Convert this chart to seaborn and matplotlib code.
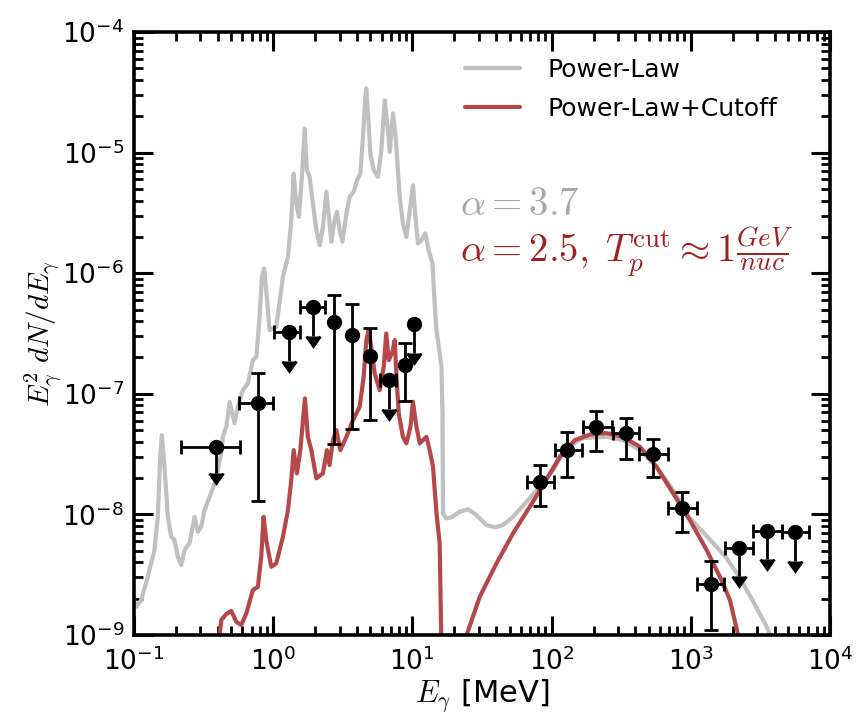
import numpy as np
import pandas as pd
import matplotlib
matplotlib.use("Agg")
import matplotlib.pyplot as plt
import seaborn as sns
from matplotlib.ticker import LogLocator, NullFormatter
from matplotlib.lines import Line2D

# ---------------- data ----------------
# Power-Law model curve: log10(E/MeV), log10(E^2 dN/dE)
pl_log_e = [-1.000, -0.984, -0.948, -0.901, -0.853, -0.829, -0.812, -0.800, -0.781, -0.757,
            -0.733, -0.709, -0.685, -0.661, -0.637, -0.601, -0.565, -0.541, -0.517, -0.493,
            -0.457, -0.421, -0.398, -0.373, -0.362, -0.337, -0.313, -0.278, -0.254, -0.218,
            -0.182, -0.146, -0.121, -0.098, -0.081, -0.065, -0.044, -0.026, 0.022, 0.070,
            0.106, 0.130, 0.147, 0.166, 0.185, 0.206, 0.226, 0.242, 0.262, 0.285,
            0.310, 0.334, 0.357, 0.382, 0.400, 0.418, 0.441, 0.458, 0.477, 0.497,
            0.526, 0.549, 0.578, 0.602, 0.626, 0.645, 0.662, 0.669, 0.684, 0.698,
            0.722, 0.753, 0.777, 0.801, 0.822, 0.837, 0.861, 0.880, 0.909, 0.932,
            0.957, 0.981, 1.004, 1.022, 1.040, 1.065, 1.093, 1.117, 1.144, 1.160,
            1.173, 1.209, 1.216, 1.220, 1.244, 1.280, 1.340, 1.400, 1.460, 1.532,
            1.592, 1.651, 1.723, 1.820, 1.915, 2.011, 2.107, 2.224, 2.395, 2.512,
            2.634, 2.754, 2.873, 2.993, 3.161, 3.257, 3.353, 3.449, 3.545, 3.620]
pl_log_f = [-8.710, -8.765, -8.710, -8.517, -8.296, -8.020, -7.522, -7.342, -7.605, -8.020,
            -8.185, -8.213, -8.351, -8.420, -8.296, -8.238, -8.020, -8.144, -8.102, -7.964,
            -7.854, -7.743, -7.633, -7.494, -7.357, -7.274, -7.066, -7.243, -7.108, -6.970,
            -6.914, -6.721, -6.694, -6.362, -6.030, -5.961, -6.224, -6.472, -6.445, -6.030,
            -5.865, -5.561, -5.174, -5.420, -5.533, -5.202, -4.801, -5.146, -5.202, -5.420,
            -5.643, -5.768, -5.616, -5.326, -5.533, -5.740, -5.561, -5.492, -5.643, -5.740,
            -5.505, -5.367, -5.326, -5.229, -5.174, -4.870, -4.539, -4.469, -4.732, -5.008,
            -5.146, -5.202, -4.980, -4.566, -4.787, -4.995, -4.676, -4.870, -5.367, -5.588,
            -5.699, -5.478, -5.271, -5.533, -5.754, -5.726, -5.671, -5.809, -5.919, -6.251,
            -6.472, -6.776, -7.163, -7.991, -8.033, -8.025, -7.978, -7.958, -8.005, -8.088,
            -8.107, -8.088, -8.020, -7.895, -7.771, -7.633, -7.450, -7.367, -7.357, -7.384,
            -7.467, -7.608, -7.798, -8.030, -8.238, -8.362, -8.528, -8.724, -8.931, -9.150]

# Power-Law+Cutoff model curve, low-energy part
plc_lo_log_e = [-0.400, -0.373, -0.337, -0.301, -0.265, -0.229, -0.193, -0.146, -0.110, -0.086,
                -0.069, -0.050, -0.014, 0.022, 0.070, 0.106, 0.130, 0.147, 0.170, 0.195,
                0.214, 0.228, 0.249, 0.274, 0.310, 0.357, 0.386, 0.405, 0.429, 0.454,
                0.482, 0.526, 0.573, 0.621, 0.650, 0.669, 0.686, 0.707, 0.729, 0.765,
                0.794, 0.812, 0.830, 0.856, 0.873, 0.887, 0.902, 0.932, 0.957, 0.986,
                1.004, 1.029, 1.053, 1.076, 1.101, 1.124, 1.148, 1.173, 1.196, 1.209]
plc_lo_log_f = [-9.150, -8.876, -8.826, -8.801, -8.892, -8.917, -8.820, -8.627, -8.600, -8.351,
                -8.020, -8.213, -8.434, -8.406, -8.185, -7.964, -7.715, -7.467, -7.660, -7.467,
                -7.218, -7.038, -7.357, -7.467, -7.701, -7.660, -7.467, -7.591, -7.384, -7.301,
                -7.467, -7.357, -7.218, -7.108, -6.859, -6.555, -6.472, -6.638, -6.831, -6.970,
                -6.776, -6.500, -6.721, -6.655, -6.555, -6.887, -7.163, -7.357, -7.411, -7.274,
                -7.066, -7.274, -7.411, -7.384, -7.357, -7.467, -7.605, -7.991, -8.240, -9.150]
# Power-Law+Cutoff model curve, pion bump part
plc_hi_log_e = [1.345, 1.484, 1.604, 1.723, 1.843, 1.939, 2.059, 2.167, 2.275, 2.395,
                2.514, 2.634, 2.754, 2.873, 2.993, 3.114, 3.209, 3.281, 3.370]
plc_hi_log_f = [-9.150, -8.683, -8.406, -8.157, -7.937, -7.757, -7.522, -7.384, -7.338, -7.326,
                -7.357, -7.439, -7.605, -7.826, -8.047, -8.296, -8.517, -8.710, -9.150]

# measured points (E in MeV, flux, x-range, y-range); nan = no energy bar
det_e = [0.776, 2.75, 3.66, 4.97, 8.81, 83.2, 129, 210, 340, 537, 859, 1394]
det_f = [8.41e-8, 3.95e-7, 3.10e-7, 2.05e-7, 1.73e-7, 1.87e-8, 3.41e-8, 5.32e-8, 4.70e-8,
         3.16e-8, 1.12e-8, 2.65e-9]
det_e_lo = [0.566, np.nan, np.nan, np.nan, np.nan, 66.7, 105, 167, 274, 426, 688, 1101]
det_e_hi = [0.995, np.nan, np.nan, np.nan, np.nan, 104, 164, 270, 426, 688, 1101, 1730]
det_f_hi = [1.49e-7, 6.58e-7, 5.53e-7, 3.48e-7, 2.62e-7, 2.56e-8, 4.79e-8, 7.23e-8, 6.32e-8,
            4.19e-8, 1.54e-8, 4.10e-9]
det_f_lo = [1.30e-8, 3.80e-8, 5.07e-8, 6.08e-8, 8.69e-8, 1.17e-8, 2.05e-8, 3.37e-8, 2.86e-8,
            2.05e-8, 7.18e-9, 1.11e-9]

# upper limits
ul_e = [0.390, 1.29, 1.93, 6.78, 10.3, 2228, 3540, 5600]
ul_f = [3.64e-8, 3.23e-7, 5.20e-7, 1.29e-7, 3.76e-7, 5.23e-9, 7.31e-9, 7.18e-9]
ul_e_lo = [0.216, 1.007, 1.57, 5.87, np.nan, 1758, 2810, 4500]
ul_e_hi = [0.573, 1.55, 2.34, 7.67, np.nan, 2780, 4500, 7100]
ul_f_tip = [1.93e-8, 1.62e-7, 2.62e-7, 6.53e-8, 1.90e-7, 2.68e-9, 3.68e-9, 3.57e-9]

legend_labels = ["Power-Law", "Power-Law+Cutoff"]
pl_color = "#c0c0c0"
plc_color = "#b5484b"

# ---------------- figure ----------------
sns.set_style("ticks")
plt.rcParams.update({
    "font.family": ["DejaVu Sans"],
    "mathtext.fontset": "dejavusans",
    "text.color": "black",
    "axes.labelcolor": "black",
    "axes.linewidth": 2.6,
    "axes.edgecolor": "black",
    "xtick.direction": "in", "ytick.direction": "in",
    "xtick.top": True, "ytick.right": True,
    "xtick.major.size": 14, "ytick.major.size": 14,
    "xtick.minor.size": 6.5, "ytick.minor.size": 6.5,
    "xtick.major.width": 2.2, "ytick.major.width": 2.2,
    "xtick.minor.width": 2.0, "ytick.minor.width": 2.0,
    "xtick.major.pad": 9, "ytick.major.pad": 7,
    "xtick.labelsize": 19, "ytick.labelsize": 19,
    "xtick.color": "black", "ytick.color": "black",
})

fig = plt.figure(figsize=(8.63, 7.26), dpi=100)
ax = fig.add_axes([134 / 863, 1 - 635 / 726, 696 / 863, 603 / 726])

pl_df = pd.DataFrame({"E": 10 ** np.array(pl_log_e), "F": 10 ** np.array(pl_log_f)})
lo_df = pd.DataFrame({"E": 10 ** np.array(plc_lo_log_e), "F": 10 ** np.array(plc_lo_log_f)})
hi_df = pd.DataFrame({"E": 10 ** np.array(plc_hi_log_e), "F": 10 ** np.array(plc_hi_log_f)})

sns.lineplot(data=pl_df, x="E", y="F", sort=False, estimator=None, color=pl_color,
             lw=3.0, ax=ax, legend=False, solid_joinstyle="round")
for d in (lo_df, hi_df):
    sns.lineplot(data=d, x="E", y="F", sort=False, estimator=None, color=plc_color,
                 lw=3.0, ax=ax, legend=False, solid_joinstyle="round")

ax.set_xscale("log")
ax.set_yscale("log")

eb_kw = dict(color="black", ecolor="black", elinewidth=2.0, capthick=2.0, capsize=5,
             markersize=10)

det_e_a = np.array(det_e); det_f_a = np.array(det_f)
yerr_det = np.vstack([det_f_a - np.array(det_f_lo), np.array(det_f_hi) - det_f_a])
ax.errorbar(det_e_a, det_f_a, yerr=yerr_det, fmt="o", zorder=5, **eb_kw)
m = np.isfinite(np.array(det_e_lo))
xerr_det = np.vstack([det_e_a - np.array(det_e_lo), np.array(det_e_hi) - det_e_a])[:, m]
ax.errorbar(det_e_a[m], det_f_a[m], xerr=xerr_det, fmt="none", zorder=5, **eb_kw)

ul_e_a = np.array(ul_e); ul_f_a = np.array(ul_f)
tip = np.array(ul_f_tip) * 1.15
yerr_ul = np.vstack([ul_f_a - tip, np.zeros_like(ul_f_a)])
ax.errorbar(ul_e_a, ul_f_a, yerr=yerr_ul, uplims=True, fmt="o", zorder=5, **eb_kw)
m = np.isfinite(np.array(ul_e_lo))
xerr_ul = np.vstack([ul_e_a - np.array(ul_e_lo), np.array(ul_e_hi) - ul_e_a])[:, m]
ax.errorbar(ul_e_a[m], ul_f_a[m], xerr=xerr_ul, fmt="none", zorder=5, **eb_kw)

ax.set_xlim(1e-1, 1e4)
ax.set_ylim(1e-9, 1e-4)
ax.xaxis.set_major_locator(LogLocator(base=10, numticks=10))
ax.yaxis.set_major_locator(LogLocator(base=10, numticks=10))
ax.xaxis.set_minor_locator(LogLocator(base=10, subs=np.arange(2, 10), numticks=20))
ax.yaxis.set_minor_locator(LogLocator(base=10, subs=np.arange(2, 10), numticks=20))
ax.xaxis.set_minor_formatter(NullFormatter())
ax.yaxis.set_minor_formatter(NullFormatter())
for s in ax.spines.values():
    s.set_visible(True)
    s.set_color("black")

ax.set_xlabel(r"$E_\gamma$ [MeV]", fontsize=22, math_fontfamily="cm", labelpad=1,
              color="black")
ax.set_ylabel(r"$E_\gamma^2\; dN/dE_\gamma$", fontsize=21, math_fontfamily="cm",
              labelpad=-2, color="black")

handles = [Line2D([], [], color=pl_color, lw=3.0), Line2D([], [], color=plc_color, lw=3.0)]
leg = ax.legend(handles, legend_labels, loc="upper left", frameon=False, fontsize=18,
                handlelength=2.2, handletextpad=1.1, labelspacing=0.62,
                bbox_to_anchor=(0.461, 0.974), borderaxespad=0.0)
for t in leg.get_texts():
    t.set_color("black")

ax.text(0.468, 0.697, r"$\alpha=3.7$", transform=ax.transAxes, fontsize=28,
        color="#a8a8a8", math_fontfamily="cm", va="baseline", ha="left")
ax.text(0.468, 0.617, r"$\alpha=2.5,\;T_p^{\mathrm{cut}}\approx1\frac{GeV}{nuc}$",
        transform=ax.transAxes, fontsize=28, color="#a31f1f", math_fontfamily="cm",
        va="baseline", ha="left")

fig.savefig("out.png", dpi=100)
